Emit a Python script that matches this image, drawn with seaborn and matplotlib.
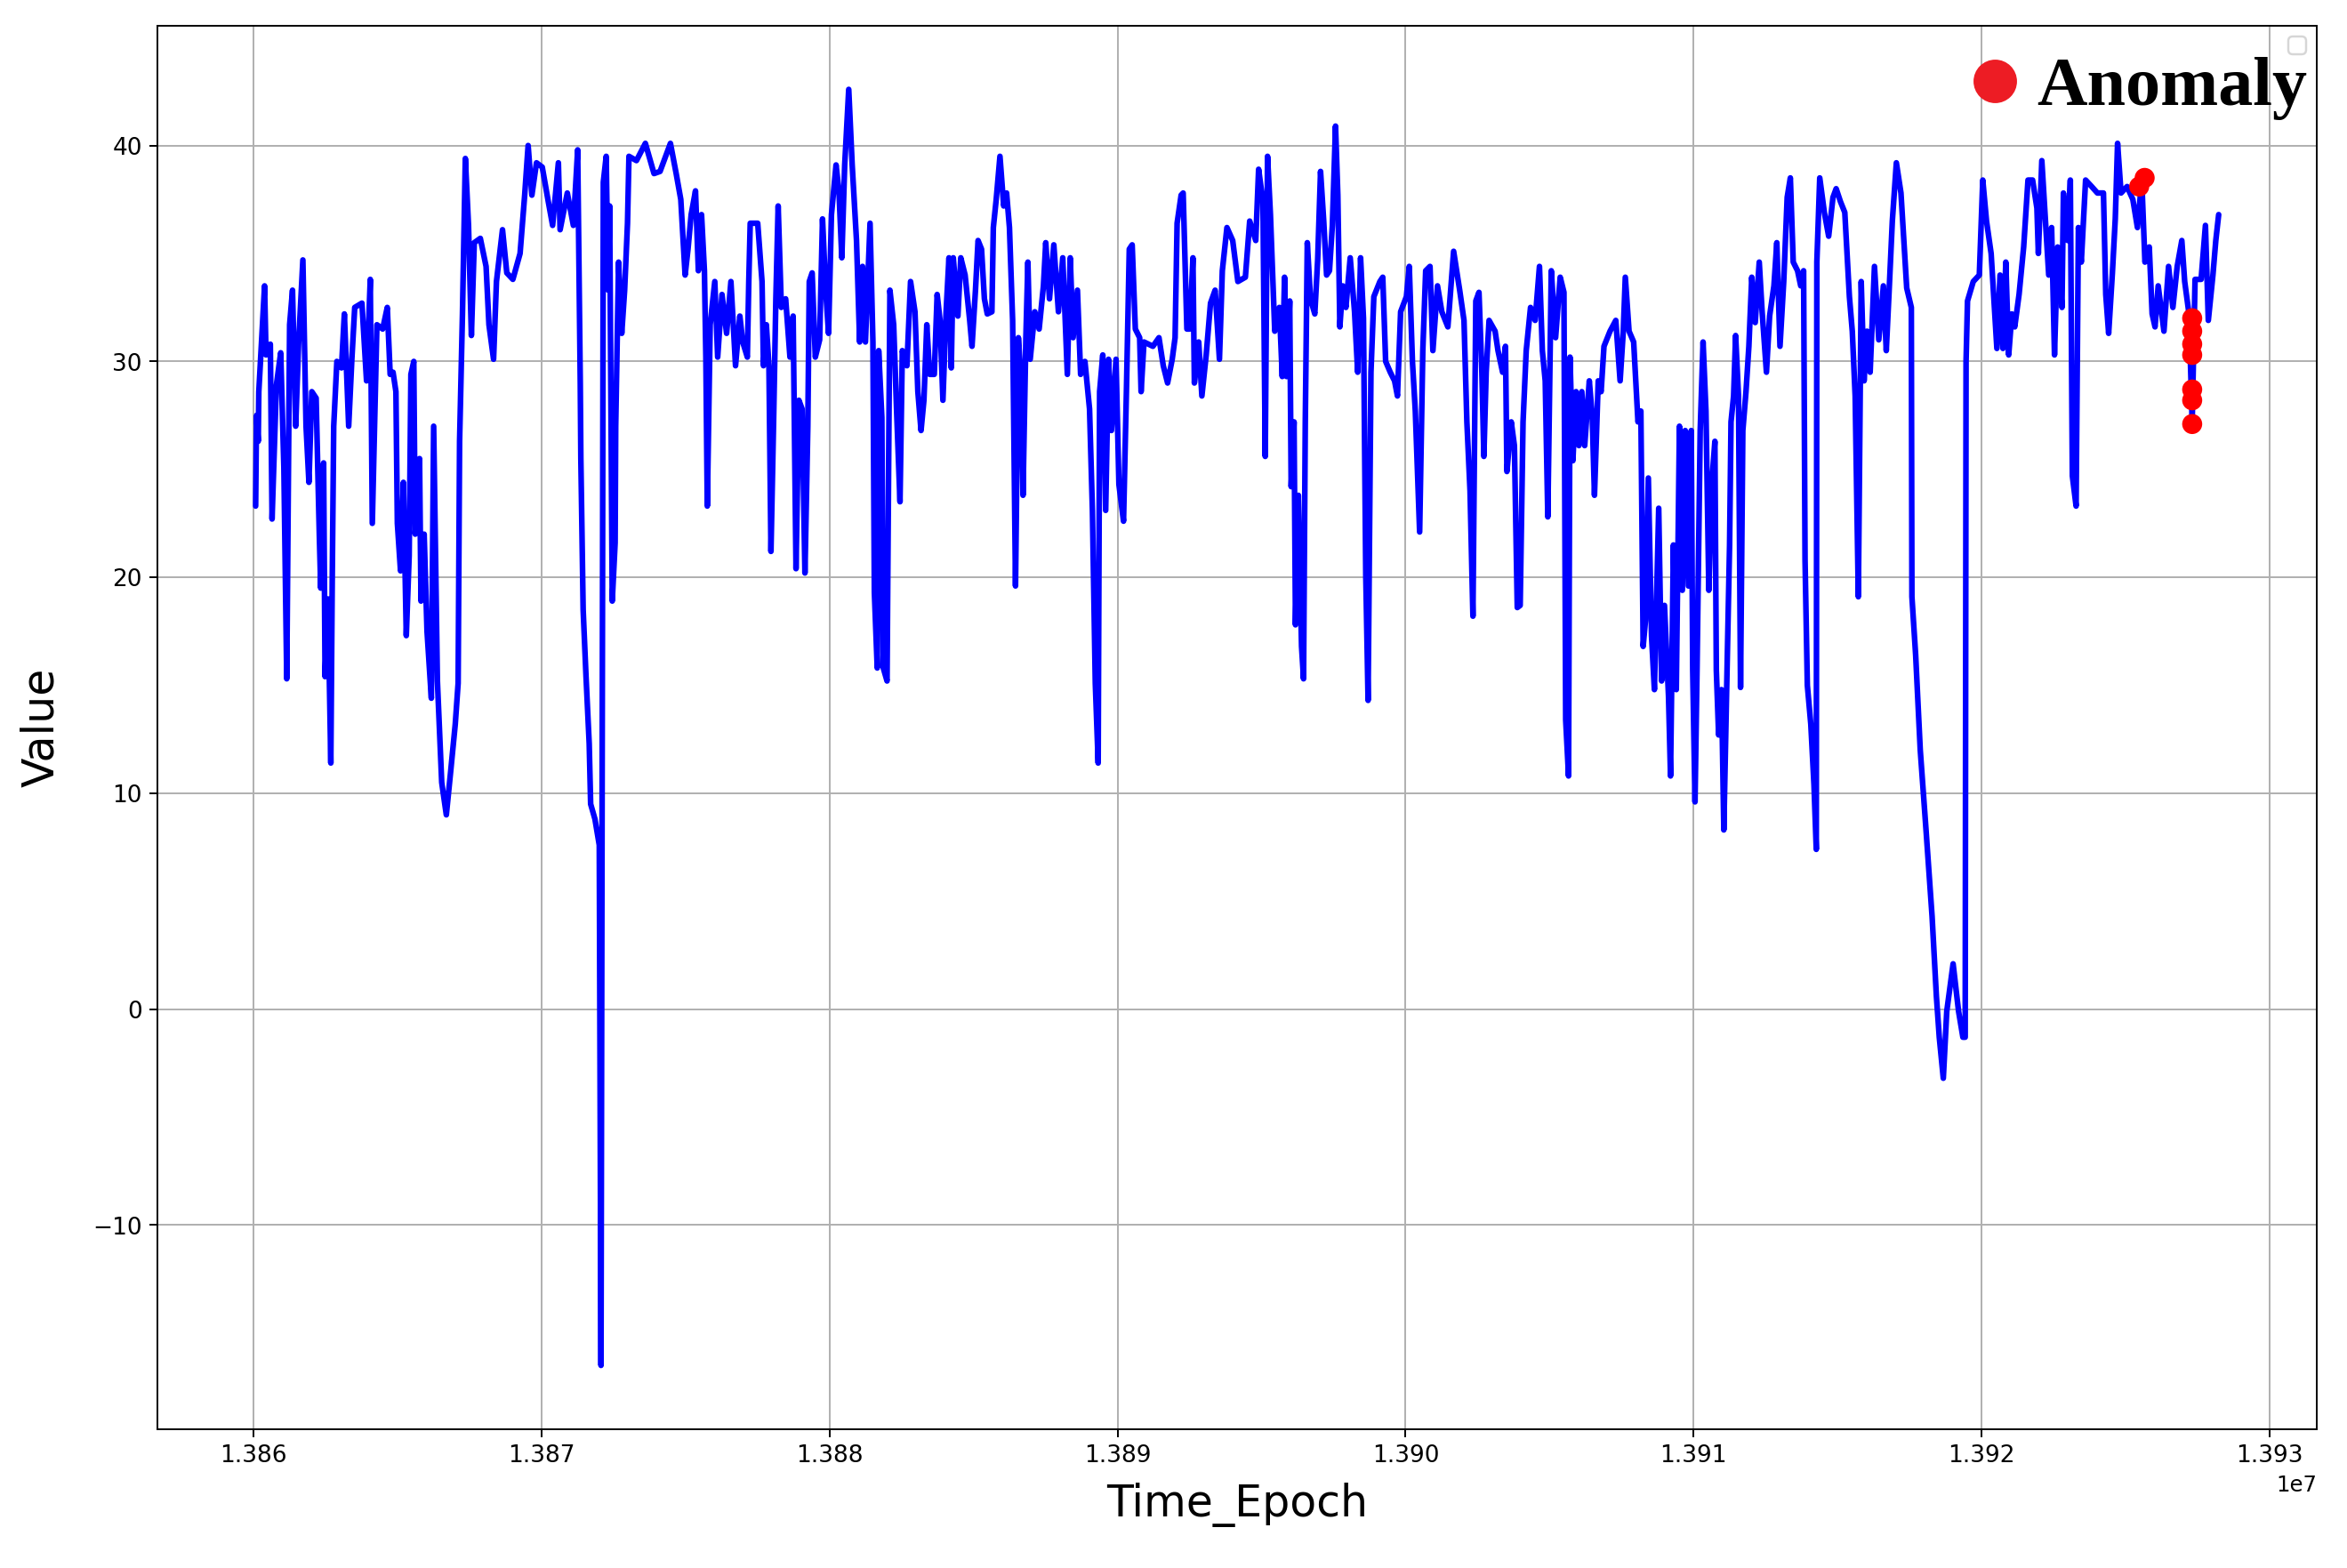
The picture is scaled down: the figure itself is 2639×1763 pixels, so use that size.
import matplotlib
matplotlib.use("Agg")
import matplotlib.pyplot as plt
from matplotlib.lines import Line2D
import pandas as pd
import seaborn as sns

# readings
time_epoch = [
    13860080, 13860110, 13860170, 13860190, 13860390, 13860440, 13860590, 13860650,
    13860800, 13860950, 13861060, 13861160, 13861260, 13861360, 13861470, 13861570,
    13861720, 13861830, 13861930, 13862030, 13862180, 13862290, 13862340, 13862440,
    13862490, 13862590, 13862690, 13862740, 13862790, 13862900, 13863060, 13863160,
    13863310, 13863420, 13863520, 13863770, 13863930, 13864060, 13864130, 13864290,
    13864490, 13864650, 13864750, 13864850, 13864950, 13865000, 13865110, 13865210,
    13865310, 13865410, 13865470, 13865570, 13865620, 13865770, 13865820, 13865930,
    13866030, 13866180, 13866260, 13866390, 13866540, 13866700, 13866850, 13867010,
    13867110, 13867160, 13867260, 13867360, 13867470, 13867570, 13867670, 13867880,
    13868080, 13868180, 13868340, 13868440, 13868650, 13868800, 13869010, 13869260,
    13869420, 13869540, 13869670, 13869830, 13870030, 13870240, 13870390, 13870590,
    13870650, 13870900, 13871110, 13871260, 13871350, 13871370, 13871450, 13871550,
    13871660, 13871710, 13871860, 13872010, 13872070, 13872150, 13872250, 13872320,
    13872370, 13872460, 13872560, 13872580, 13872630, 13872680, 13872790, 13872890,
    13872990, 13873040, 13873300, 13873610, 13873910, 13874120, 13874480, 13874680,
    13874840, 13874990, 13875090, 13875200, 13875350, 13875450, 13875560, 13875660,
    13875710, 13875760, 13875860, 13876020, 13876120, 13876270, 13876430, 13876580,
    13876740, 13876890, 13876990, 13877150, 13877200, 13877250, 13877510, 13877660,
    13877710, 13877810, 13877900, 13877970, 13878070, 13878140, 13878220, 13878330,
    13878480, 13878630, 13878740, 13878840, 13878940, 13879050, 13879150, 13879250,
    13879300, 13879400, 13879510, 13879660, 13879760, 13879870, 13879970, 13880070,
    13880230, 13880330, 13880430, 13880530, 13880670, 13880790, 13880940, 13881050,
    13881150, 13881250, 13881410, 13881510, 13881560, 13881660, 13881710, 13881820,
    13881870, 13882000, 13882100, 13882230, 13882330, 13882450, 13882530, 13882690,
    13882816, 13882970, 13883070, 13883180, 13883280, 13883380, 13883480, 13883640,
    13883740, 13883840, 13883940, 13884050, 13884150, 13884230, 13884300, 13884460,
    13884560, 13884710, 13884870, 13884950, 13885070, 13885160, 13885280, 13885380,
    13885480, 13885640, 13885690, 13885790, 13885920, 13886050, 13886150, 13886250,
    13886360, 13886460, 13886560, 13886660, 13886720, 13886820, 13886890, 13886970,
    13887130, 13887280, 13887430, 13887510, 13887640, 13887790, 13887950, 13888100,
    13888260, 13888360, 13888460, 13888610, 13888720, 13888870, 13889030, 13889130,
    13889230, 13889330, 13889380, 13889490, 13889590, 13889690, 13889790, 13889950,
    13890050, 13890210, 13890310, 13890410, 13890510, 13890620, 13890770, 13890820,
    13890920, 13891230, 13891440, 13891590, 13891740, 13891900, 13892000, 13892070,
    13892210, 13892280, 13892410, 13892510, 13892620, 13892670, 13892820, 13892930,
    13893080, 13893230, 13893390, 13893540, 13893640, 13893800, 13894000, 13894180,
    13894440, 13894590, 13894800, 13894900, 13895050, 13895130, 13895210, 13895310,
    13895410, 13895460, 13895620, 13895720, 13895800, 13895870, 13895980, 13896030,
    13896130, 13896180, 13896280, 13896390, 13896460, 13896520, 13896590, 13896700,
    13896850, 13896950, 13897050, 13897160, 13897260, 13897360, 13897460, 13897570,
    13897650, 13897720, 13897820, 13897930, 13898080, 13898230, 13898340, 13898440,
    13898540, 13898620, 13898700, 13898800, 13898900, 13899110, 13899210, 13899310,
    13899470, 13899620, 13899720, 13899830, 13900030, 13900130, 13900240, 13900340,
    13900490, 13900600, 13900700, 13900850, 13900950, 13901110, 13901260, 13901470,
    13901670, 13901880, 13902030, 13902130, 13902240, 13902340, 13902440, 13902550,
    13902650, 13902720, 13902800, 13902900, 13903110, 13903210, 13903370, 13903470,
    13903520, 13903670, 13903780, 13903880, 13903980, 13904080, 13904190, 13904340,
    13904500, 13904650, 13904750, 13904850, 13904940, 13905060, 13905210, 13905370,
    13905500, 13905560, 13905660, 13905710, 13905810, 13905920, 13906020, 13906120,
    13906220, 13906380, 13906480, 13906560, 13906690, 13906790, 13906890, 13907100,
    13907300, 13907450, 13907560, 13907630, 13907760, 13907920, 13908070, 13908170,
    13908250, 13908330, 13908430, 13908540, 13908640, 13908790, 13908890, 13908990,
    13909130, 13909200, 13909300, 13909400, 13909510, 13909610, 13909710, 13909820,
    13909920, 13909970, 13910050, 13910120, 13910230, 13910330, 13910430, 13910530,
    13910640, 13910740, 13910790, 13910870, 13910970, 13911050, 13911150, 13911250,
    13911300, 13911390, 13911460, 13911560, 13911630, 13911710, 13911820, 13911920,
    13912020, 13912140, 13912280, 13912380, 13912530, 13912640, 13912790, 13912890,
    13913000, 13913130, 13913250, 13913360, 13913460, 13913610, 13913720, 13913820,
    13913870, 13913950, 13914070, 13914180, 13914260, 13914280, 13914380, 13914540,
    13914690, 13914840, 13914950, 13915100, 13915250, 13915410, 13915510, 13915610,
    13915720, 13915820, 13915920, 13916020, 13916130, 13916280, 13916430, 13916590,
    13916690, 13916790, 13916900, 13917040, 13917200, 13917300, 13917400, 13917560,
    13917580, 13917710, 13917870, 13918070, 13918280, 13918430, 13918530, 13918670,
    13918790, 13919010, 13919200, 13919350, 13919430, 13919460, 13919510, 13919710,
    13919920, 13920040, 13920170, 13920330, 13920530, 13920640, 13920740, 13920840,
    13920940, 13921050, 13921150, 13921300, 13921460, 13921610, 13921770, 13921920,
    13921970, 13922090, 13922230, 13922330, 13922430, 13922530, 13922640, 13922790,
    13922840, 13922990, 13923080, 13923150, 13923280, 13923360, 13923460, 13923610,
    13923820, 13924020, 13924230, 13924310, 13924410, 13924540, 13924640, 13924720,
    13924840, 13925050, 13925250, 13925410, 13925560, 13925670, 13925820, 13925920,
    13926020, 13926130, 13926330, 13926490, 13926640, 13926790, 13926950, 13927050,
    13927200, 13927310, 13927410, 13927620, 13927770, 13927870, 13928030, 13928130,
    13928230,
]
value = [
    23.3, 27.5, 26.3, 28.6, 33.5, 30.3, 30.8, 22.7,
    28.9, 30.4, 25.1, 15.3, 31.7, 33.3, 27.0, 30.8,
    34.7, 27.0, 24.4, 28.6, 28.3, 22.0, 19.5, 25.3,
    15.4, 19.0, 11.4, 20.0, 27.0, 30.0, 29.7, 32.2,
    27.0, 30.1, 32.5, 32.7, 29.1, 33.8, 22.5, 31.7,
    31.5, 32.5, 29.4, 29.5, 28.6, 22.5, 20.3, 24.4,
    17.3, 21.0, 29.4, 30.0, 22.0, 25.5, 18.9, 22.0,
    17.5, 14.4, 27.0, 15.2, 10.5, 9.0, 11.0, 13.2,
    15.1, 26.3, 32.2, 39.4, 36.3, 31.2, 35.5, 35.7,
    34.4, 31.7, 30.1, 33.7, 36.1, 34.1, 33.8, 35.0,
    37.7, 40.0, 37.7, 39.2, 39.0, 37.4, 36.3, 39.2,
    36.1, 37.8, 36.3, 39.8, 29.0, 25.5, 18.5, 15.4,
    12.3, 9.5, 8.8, 7.6, -16.5, 38.3, 39.5, 33.3,
    37.2, 18.9, 21.6, 27.0, 30.9, 34.6, 31.3, 33.3,
    36.4, 39.5, 39.3, 40.1, 38.7, 38.8, 40.1, 38.7,
    37.5, 34.0, 35.2, 36.8, 37.9, 34.2, 36.8, 34.2,
    30.2, 23.3, 31.7, 33.7, 30.2, 33.1, 31.3, 33.7,
    29.8, 32.1, 30.9, 30.2, 33.7, 36.4, 36.4, 33.7,
    29.8, 31.7, 29.8, 21.2, 27.8, 32.9, 37.2, 32.5,
    32.9, 30.2, 32.1, 20.4, 28.2, 27.8, 20.2, 27.0,
    33.7, 34.1, 30.2, 31.0, 36.6, 33.3, 31.3, 36.8,
    39.1, 37.9, 34.8, 39.1, 42.6, 39.1, 35.6, 30.9,
    34.4, 30.9, 36.4, 30.9, 19.3, 15.8, 30.5, 27.4,
    15.8, 15.2, 33.3, 31.7, 27.8, 23.5, 30.5, 29.8,
    33.7, 32.3, 28.6, 26.8, 28.2, 31.7, 29.4, 29.4,
    33.1, 31.9, 28.2, 32.3, 34.8, 29.7, 34.8, 32.1,
    34.8, 34.0, 31.9, 30.7, 33.3, 35.6, 35.2, 32.9,
    32.2, 32.3, 36.2, 37.5, 39.5, 37.2, 37.8, 36.2,
    31.9, 19.6, 31.1, 29.0, 23.8, 31.1, 34.6, 30.1,
    32.3, 31.5, 33.5, 35.5, 32.9, 35.4, 32.3, 34.8,
    29.4, 34.8, 31.1, 33.3, 29.4, 30.0, 27.8, 23.1,
    15.1, 11.4, 28.6, 30.3, 23.1, 30.1, 26.8, 30.1,
    24.3, 22.6, 28.6, 35.2, 35.4, 31.5, 31.1, 28.6,
    30.9, 30.7, 31.1, 29.8, 29.0, 30.1, 31.1, 36.4,
    37.7, 37.8, 31.5, 31.5, 34.8, 29.0, 30.9, 28.4,
    30.3, 32.7, 33.3, 30.1, 34.2, 36.2, 35.6, 33.7,
    33.9, 36.5, 35.6, 38.9, 37.4, 25.6, 39.5, 36.8,
    33.2, 31.4, 32.5, 29.3, 33.9, 29.3, 32.8, 24.2,
    27.2, 17.8, 23.8, 16.8, 15.3, 27.2, 35.5, 32.9,
    32.2, 34.7, 38.8, 36.5, 34.0, 34.2, 36.3, 40.9,
    37.7, 31.6, 33.5, 32.5, 34.8, 32.3, 29.5, 34.8,
    32.0, 20.1, 14.3, 29.5, 33.0, 33.7, 33.9, 30.0,
    29.5, 29.1, 28.4, 32.3, 33.0, 34.4, 30.0, 27.7,
    22.1, 30.5, 34.2, 34.4, 30.5, 33.5, 32.3, 31.6,
    35.1, 33.3, 31.9, 27.2, 24.0, 18.2, 32.8, 33.2,
    29.5, 25.6, 29.5, 31.9, 31.4, 30.5, 29.5, 30.7,
    24.9, 27.2, 26.1, 18.6, 18.7, 27.2, 30.5, 32.5,
    31.9, 34.4, 30.5, 29.1, 22.8, 34.2, 31.1, 33.9,
    33.2, 13.4, 10.8, 30.2, 25.4, 28.6, 26.1, 28.6,
    26.1, 29.1, 27.5, 23.8, 29.1, 28.6, 30.7, 31.4,
    31.9, 29.1, 31.4, 33.9, 31.4, 30.9, 27.2, 27.7,
    16.8, 18.0, 24.6, 17.3, 14.8, 23.2, 15.2, 18.7,
    14.5, 10.8, 21.5, 14.8, 27.0, 19.4, 26.8, 19.6,
    26.8, 15.7, 9.6, 15.7, 26.8, 30.9, 27.7, 19.4,
    24.5, 26.3, 15.7, 12.7, 14.8, 8.3, 14.8, 21.5,
    27.2, 28.4, 31.2, 28.4, 14.9, 26.8, 28.6, 30.7,
    33.9, 31.8, 34.6, 32.3, 29.5, 32.1, 33.5, 35.5,
    30.7, 33.7, 37.6, 38.5, 34.6, 34.2, 33.5, 34.2,
    20.8, 15.0, 13.2, 10.4, 7.4, 34.6, 38.5, 36.9,
    35.8, 37.6, 38.0, 37.4, 36.9, 33.0, 31.4, 28.4,
    19.1, 33.7, 29.1, 31.4, 29.5, 34.4, 31.0, 33.5,
    30.5, 33.3, 36.5, 39.2, 37.8, 35.6, 33.4, 32.5,
    19.1, 16.4, 12.0, 8.3, 4.3, 0.6, -1.3, -3.2,
    -0.1, 2.1, -0.1, -1.3, -1.3, 30.0, 32.8, 33.7,
    34.0, 38.4, 36.5, 35.0, 30.6, 34.0, 30.6, 34.6,
    30.3, 32.2, 31.6, 33.1, 35.3, 38.4, 38.4, 37.1,
    35.0, 39.3, 36.2, 34.0, 36.2, 30.3, 35.3, 32.5,
    37.8, 35.6, 38.4, 24.7, 23.3, 36.2, 34.6, 38.4,
    38.1, 37.8, 37.8, 33.1, 31.3, 34.1, 36.6, 40.1,
    37.8, 38.1, 37.5, 36.2, 38.4, 34.6, 35.3, 32.2,
    31.6, 33.5, 31.4, 34.4, 32.5, 34.4, 35.6, 33.7,
    32.2, 27.2, 33.8, 33.8, 36.3, 31.9, 34.0, 35.6,
    36.8,
]

anomaly_time = [13925470, 13925660, 13927310, 13927310, 13927310, 13927310,
                13927310, 13927310, 13927310]
anomaly_value = [38.1, 38.5, 32.0, 31.4, 30.8, 30.3, 28.7, 28.2, 27.1]

series = pd.DataFrame({'Time_Epoch': time_epoch, 'Value': value})
anomalies = pd.DataFrame({'Time_Epoch': anomaly_time, 'Value': anomaly_value})

sns.set_style("ticks", {"axes.grid": True, "grid.color": "#b0b0b0",
                        "axes.edgecolor": "black", "xtick.color": "black",
                        "ytick.color": "black", "axes.labelcolor": "black",
                        "text.color": "black"})
plt.rcParams['font.family'] = ['DejaVu Sans']

fig, ax = plt.subplots(figsize=(15.001, 10.022), dpi=175.93)
fig.subplots_adjust(left=0.0671, right=0.9871, top=0.9836, bottom=0.0885)

sns.lineplot(data=series, x='Time_Epoch', y='Value', color='blue', linewidth=2.6,
             sort=False, estimator=None, legend=False, ax=ax)
sns.scatterplot(data=anomalies, x='Time_Epoch', y='Value', color='red', s=85,
                edgecolor='none', legend=False, zorder=3, ax=ax)

ax.set_xlabel('Time_Epoch', fontsize=20, labelpad=7)
ax.set_ylabel('Value', fontsize=20, labelpad=14)
ax.tick_params(labelsize=10.8)

dot = Line2D([], [], marker='o', linestyle='none', markersize=19,
             markerfacecolor='#ed1c24', markeredgecolor='#ed1c24')
leg = ax.legend([dot], ['Anomaly'], loc='upper right', bbox_to_anchor=(1.002, 0.988),
                frameon=False,
                prop={'family': 'Liberation Serif', 'weight': 'bold', 'size': 32},
                handletextpad=0.2, handlelength=0.8, borderaxespad=0.0,
                borderpad=0.2)
ax.add_artist(leg)
ax.legend(handles=[], loc='upper right')

fig.savefig('out.png', dpi=175.93)
